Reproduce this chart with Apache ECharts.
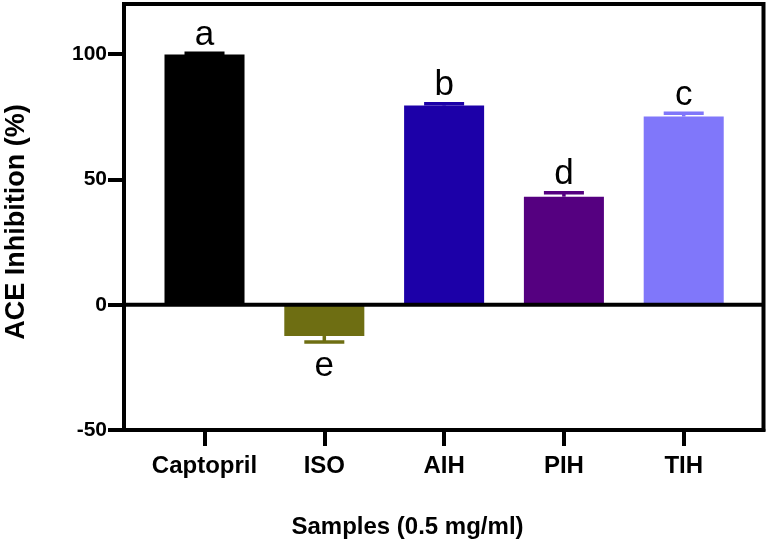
<!DOCTYPE html>
<html><head><meta charset="utf-8">
<script src="https://cdn.jsdelivr.net/npm/echarts@6/dist/echarts.min.js"></script>
<style>html,body{margin:0;padding:0;background:#fff}#c{width:767px;height:542px}</style>
</head><body><div id="c"></div>
<script>
const categories = ['Captopril', 'ISO', 'AIH', 'PIH', 'TIH'];
const means = [99.8, -12.5, 79.5, 43.1, 75.1];
const errors = [0.5, 2.4, 0.7, 1.6, 1.3];
const letters = ['a', 'e', 'b', 'd', 'c'];
const colors = ['#000000', '#6E6E12', '#1C00A8', '#550080', '#8077FA'];
const yTicks = [-50, 0, 50, 100];
const xTicks = categories.map((_, i) => i);

const FONT = '"Liberation Sans", Arial, sans-serif';
const BAR_W = 0.668, CAP_W = 0.334, LW = 3.5;

const chart = echarts.init(document.getElementById('c'), null, {renderer: 'canvas'});

function renderBar(params, api) {
  const i = api.value(0), v = api.value(1), e = api.value(2);
  const base = api.coord([i, 0]);
  const top = api.coord([i, v]);
  const up = v >= 0;
  const cap = api.coord([i, up ? v + e : v - e]);
  const w = api.size([BAR_W, 0])[0];
  const cw = api.size([CAP_W, 0])[0];
  const color = colors[params.dataIndex];
  const y0 = Math.min(base[1], top[1]);
  const h = Math.abs(base[1] - top[1]);
  return {
    type: 'group',
    children: [
      {type: 'rect', shape: {x: base[0] - w / 2, y: y0, width: w, height: h}, style: {fill: color}},
      {type: 'line', shape: {x1: top[0], y1: top[1], x2: cap[0], y2: cap[1]}, style: {stroke: color, lineWidth: LW}},
      {type: 'line', shape: {x1: cap[0] - cw / 2, y1: cap[1], x2: cap[0] + cw / 2, y2: cap[1]}, style: {stroke: color, lineWidth: LW}},
      {type: 'text', style: {
        text: letters[params.dataIndex],
        x: cap[0],
        y: up ? cap[1] - LW / 2 + 1 : cap[1] + LW / 2 + 5.5,
        align: 'center',
        verticalAlign: up ? 'bottom' : 'top',
        font: '35px ' + FONT,
        fill: '#000'
      }}
    ]
  };
}

function renderZero(params, api) {
  const cs = params.coordSys;
  const p = api.coord([0, 0]);
  return {type: 'line', shape: {x1: cs.x, y1: p[1], x2: cs.x + cs.width, y2: p[1]}, style: {stroke: '#000', lineWidth: 4}};
}

chart.setOption({
  animation: false,
  backgroundColor: '#fff',
  grid: {left: 124, right: 3.5, top: 4, bottom: 112, show: true, borderColor: '#000', borderWidth: 4, backgroundColor: 'transparent'},
  xAxis: {
    type: 'value', min: -0.672, max: 4.666,
    splitLine: {show: false},
    axisLine: {show: true, onZero: false, lineStyle: {color: '#000', width: 4}},
    axisTick: {show: true, inside: false, length: 16, customValues: xTicks, lineStyle: {color: '#000', width: 4}},
    axisLabel: {show: true, customValues: xTicks, formatter: v => categories[Math.round(v)] || '', margin: 24,
      color: '#000', fontFamily: FONT, fontWeight: 'bold', fontSize: 24}
  },
  yAxis: {
    type: 'value', min: -50, max: 120, interval: 50,
    splitLine: {show: false},
    axisLine: {show: true, onZero: false, lineStyle: {color: '#000', width: 4}},
    axisTick: {show: true, inside: false, length: 16, customValues: yTicks, lineStyle: {color: '#000', width: 4}},
    axisLabel: {show: true, customValues: yTicks, margin: 17,
      color: '#000', fontFamily: FONT, fontWeight: 'bold', fontSize: 21}
  },
  graphic: [
    {type: 'text', x: 17, y: 222, rotation: Math.PI / 2, style: {text: 'ACE Inhibition (%)', align: 'center', verticalAlign: 'middle',
      font: 'bold 27px ' + FONT, fill: '#000'}},
    {type: 'text', x: 407.5, y: 527, style: {text: 'Samples (0.5 mg/ml)', align: 'center', verticalAlign: 'middle',
      font: 'bold 24px ' + FONT, fill: '#000'}}
  ],
  series: [
    {type: 'custom', renderItem: renderBar, z: 2, clip: false,
      data: means.map((m, i) => [i, m, errors[i]])},
    {type: 'custom', renderItem: renderZero, z: 5, data: [[0, 0]]}
  ]
});
</script>
</body></html>
